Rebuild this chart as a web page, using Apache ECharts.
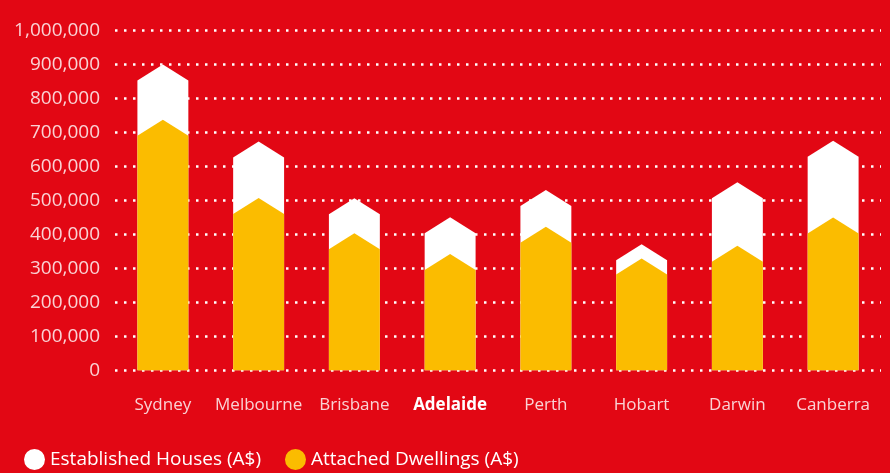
<!DOCTYPE html>
<html>
<head>
<meta charset="utf-8">
<script src="https://cdn.jsdelivr.net/npm/echarts@6/dist/echarts.min.js"></script>
<style>
html,body{margin:0;padding:0;background:#e20714;}
#c{width:890px;height:473px;}
</style>
</head>
<body>
<div id="c"></div>
<script>
const categories = ['Sydney','Melbourne','Brisbane','Adelaide','Perth','Hobart','Darwin','Canberra'];
const establishedHouses = [852000, 626000, 459000, 403000, 483000, 324000, 506000, 628000];
const attachedDwellings = [690000, 460000, 356000, 295000, 375000, 282000, 319000, 402000];
const yTicks = [0,100000,200000,300000,400000,500000,600000,700000,800000,900000,1000000];

const chart = echarts.init(document.getElementById('c'), null, {renderer:'canvas'});
const FONT = '"Open Sans", sans-serif';
const labelColor = 'rgba(255,255,255,0.82)';

function renderItem(params, api){
  const idx = api.value(0);
  const v = api.value(1);
  const top = api.coord([idx, v]);
  const base = api.coord([idx, 0]);
  const hw = api.size([1,0])[0] * 0.532 / 2;
  const roof = 16;
  return {
    type:'polygon',
    shape:{points:[
      [top[0]-hw, base[1]],
      [top[0]-hw, top[1]],
      [top[0], top[1]-roof],
      [top[0]+hw, top[1]],
      [top[0]+hw, base[1]]
    ]},
    style:{fill: api.visual('color')}
  };
}

chart.setOption({
  backgroundColor:'#e20714',
  animation:false,
  grid:{left:115, right:9, top:30.3, bottom:102.7},
  legend:{
    left:19, top:444,
    icon:'circle', itemWidth:21, itemHeight:21, itemGap:24,
    textStyle:{color:'#ffffff', fontSize:19, fontFamily:FONT},
    data:['Established Houses (A$)','Attached Dwellings (A$)']
  },
  xAxis:{
    type:'category', data:categories,
    axisLine:{show:false}, axisTick:{show:false},
    axisLabel:{
      interval:0,
      margin:26,
      formatter: v => v === 'Adelaide' ? '{b|'+v+'}' : '{a|'+v+'}',
      rich:{
        a:{color:labelColor, fontSize:17, fontFamily:FONT},
        b:{color:'#ffffff', fontSize:17, fontWeight:'bold', fontFamily:FONT}
      }
    }
  },
  yAxis:{
    type:'value', min:yTicks[0], max:yTicks[yTicks.length-1], interval:yTicks[1]-yTicks[0],
    axisLine:{show:false}, axisTick:{show:false},
    axisLabel:{
      margin:15, color:labelColor, fontSize:19, fontFamily:FONT,
      formatter: v => v.toLocaleString('en-US')
    },
    splitLine:{lineStyle:{color:'#ffffff', width:2.5, type:[2.5,6.5]}}
  },
  series:[
    {
      name:'Established Houses (A$)', type:'custom', renderItem,
      itemStyle:{color:'#ffffff'},
      encode:{x:0, y:1},
      data: establishedHouses.map((v,i)=>[i,v]),
      z:2
    },
    {
      name:'Attached Dwellings (A$)', type:'custom', renderItem,
      itemStyle:{color:'#fbbc00'},
      encode:{x:0, y:1},
      data: attachedDwellings.map((v,i)=>[i,v]),
      z:3
    }
  ]
});
</script>
</body>
</html>
